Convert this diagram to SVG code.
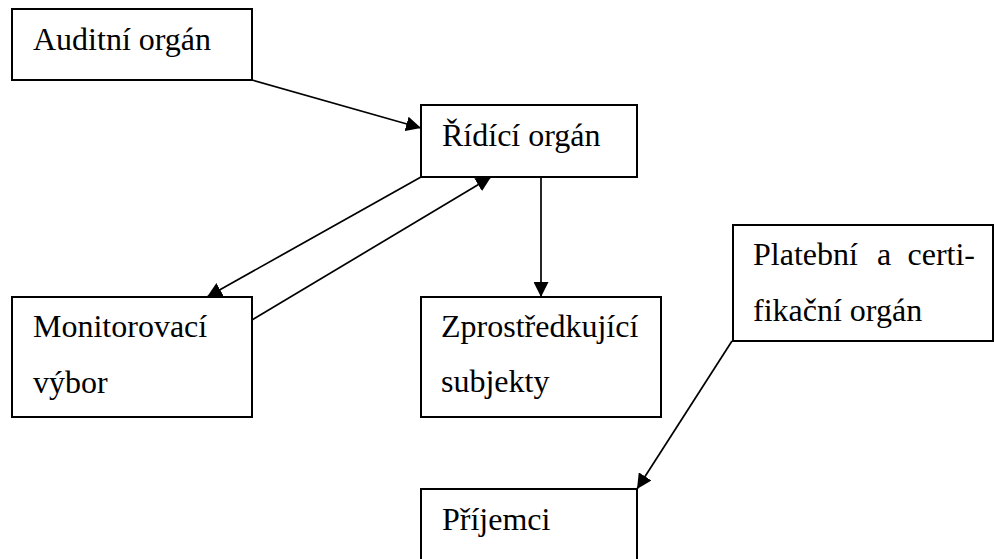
<svg xmlns="http://www.w3.org/2000/svg" width="994" height="559" viewBox="0 0 994 559">
  <style>
    .box { fill: #ffffff; stroke: #000000; stroke-width: 2; }
    .lbl { font-family: "Liberation Serif", "Times New Roman", serif; font-size: 32px; fill: #000000; }
    .conn { fill: none; stroke: #000000; stroke-width: 1.7; }
  </style>
  <defs>
    <marker id="arrow" markerUnits="userSpaceOnUse" markerWidth="15" markerHeight="15" refX="15" refY="7.5" orient="auto">
      <path d="M0,0 L15,7.5 L0,15 z" fill="#000000"/>
    </marker>
  </defs>
  <rect width="994" height="559" fill="#ffffff"/>

  <g id="connectors">
    <line class="conn" x1="252" y1="80" x2="421" y2="128" marker-end="url(#arrow)"/>
    <line class="conn" x1="421" y1="177" x2="207" y2="297" marker-end="url(#arrow)"/>
    <line class="conn" x1="252" y1="320" x2="491" y2="177" marker-end="url(#arrow)"/>
    <line class="conn" x1="541" y1="177" x2="541" y2="297" marker-end="url(#arrow)"/>
    <line class="conn" x1="732" y1="341" x2="637" y2="489" marker-end="url(#arrow)"/>
  </g>

  <g id="auditni-organ">
    <rect class="box" x="12" y="9" width="240" height="71"/>
    <text class="lbl" x="33" y="50">Auditní orgán</text>
  </g>

  <g id="ridici-organ">
    <rect class="box" x="421" y="105" width="216" height="72"/>
    <text class="lbl" x="442" y="146">Řídící orgán</text>
  </g>

  <g id="monitorovaci-vybor">
    <rect class="box" x="12" y="297" width="240" height="120"/>
    <text class="lbl" x="33" y="337">Monitorovací</text>
    <text class="lbl" x="33" y="393">výbor</text>
  </g>

  <g id="zprostredkujici-subjekty">
    <rect class="box" x="421" y="297" width="240" height="120"/>
    <text class="lbl" x="441" y="337">Zprostředkující</text>
    <text class="lbl" x="441" y="392">subjekty</text>
  </g>

  <g id="platebni-organ">
    <rect class="box" x="733" y="225" width="260" height="116"/>
    <text class="lbl" x="753" y="265">Platební</text>
    <text class="lbl" x="877" y="265">a</text>
    <text class="lbl" x="975" y="265" text-anchor="end">certi-</text>
    <text class="lbl" x="753" y="321">fikační orgán</text>
  </g>

  <g id="prijemci">
    <rect class="box" x="421" y="489" width="216" height="80"/>
    <text class="lbl" x="442" y="530">Příjemci</text>
  </g>
</svg>
